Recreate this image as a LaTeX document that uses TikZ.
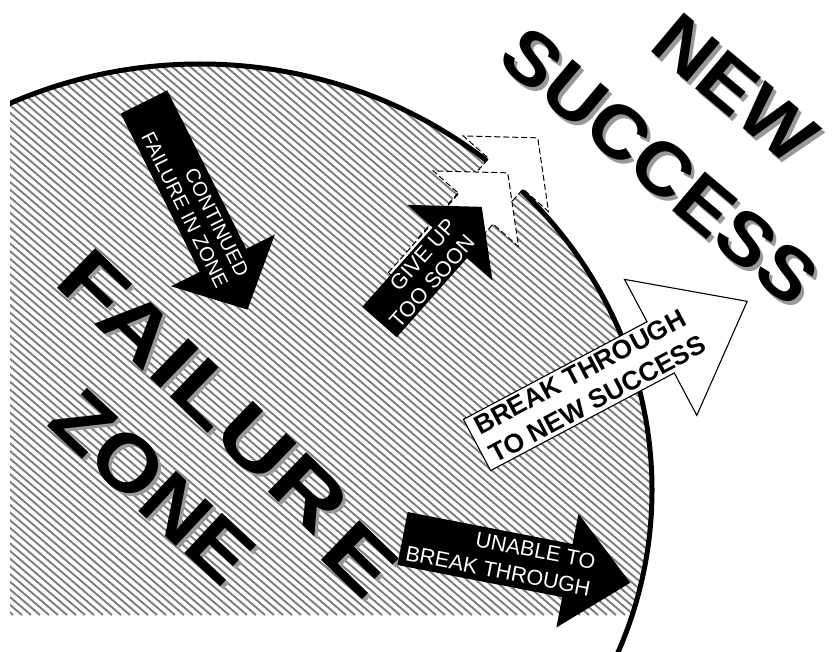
\documentclass[tikz,border=0pt]{standalone}
\usepackage{fontspec}
\setmainfont{Liberation Sans}
\usepackage{tikz}
\usetikzlibrary{calc}

% fat block arrow along the local x axis: shaft half width, shaft length, head half width, head length
\newcommand{\fatarrow}[4]{(0,-#1) -- (#2,-#1) -- (#2,-#3) -- (#2+#4,0) -- (#2,#3) -- (#2,#1) -- (0,#1) -- cycle}

\begin{document}
\begin{tikzpicture}[x=1pt, y=-1pt,
    hatchline/.style={black!50, line width=2pt},
    solidarrow/.style={fill=black},
    ghostarrow/.style={fill=white, draw=black, line width=1pt, dash pattern=on 6pt off 3pt},
    openarrow/.style={fill=white, draw=black, line width=1.1pt},
    arrowtext/.style={text=white, inner sep=0pt, transform shape},
    bigword/.style={font=\bfseries\fontsize{80}{90}\selectfont, inner sep=0pt},
    shadowword/.style={bigword, text=black!40}]

  \useasboundingbox (0,0) rectangle (834,652);

  % Centre of the failure zone (an ellipse cut off by the page)
  \coordinate (Z) at (200,490);

  % Hatched zone and its rim
  \begin{scope}
    \clip (10,0) rectangle (834,652);
    \begin{scope}
      \clip (Z) ellipse [x radius=452, y radius=426];
      \foreach \k in {-770,-761,...,840}
        \draw[hatchline] (\k,0) -- ++(720,615);
    \end{scope}
    \draw[line width=5pt] (Z) ellipse [x radius=452, y radius=426];
  \end{scope}

  % Big words
  \node[shadowword, rotate=-44, xscale=1.27, anchor=base west] (failureshadow) at (55,286) {FAILUR\kern10pt\raisebox{-12pt}{E}};
  \node[bigword, rotate=-44, xscale=1.27, anchor=base west] (failure) at (52,283) {FAILUR\kern10pt\raisebox{-12pt}{E}};
  \node[shadowword, rotate=-43, xscale=1.09, anchor=base] (zoneshadow) at (137,510) {ZONE};
  \node[bigword, rotate=-43, xscale=1.09, anchor=base] (zone) at (134,507) {ZONE};

  \node[shadowword, font=\bfseries\fontsize{74}{80}\selectfont, rotate=-40, xscale=1.08, anchor=base] (newshadow) at (722,112) {NEW};
  \node[bigword, font=\bfseries\fontsize{74}{80}\selectfont, rotate=-40, xscale=1.08, anchor=base] (new) at (719,108) {NEW};
  \node[shadowword, font=\bfseries\fontsize{74}{80}\selectfont, rotate=-40, xscale=1.08, anchor=base] (successshadow) at (646.3,189.7) {SUCCESS};
  \node[bigword, font=\bfseries\fontsize{74}{80}\selectfont, rotate=-40, xscale=1.08, anchor=base] (success) at (643.3,185.7) {SUCCESS};

  % Continued failure in zone
  \begin{scope}[shift={(144,102)}, rotate=-63.5]
    \fill[solidarrow] \fatarrow{26}{177}{58}{55};
    \node[arrowtext, font=\fontsize{20}{23}\selectfont, anchor=east, align=right] (continued) at (200,0) {CONTINUED\\FAILURE IN ZONE};
  \end{scope}

  % Give up too soon, with the two ghost arrows it never reached
  \begin{scope}[shift={(435.5,253)}, rotate=48.4]
    \filldraw[ghostarrow] \fatarrow{23}{106}{57}{48};
  \end{scope}
  \begin{scope}[shift={(405.5,288)}, rotate=48.4]
    \filldraw[ghostarrow] \fatarrow{23}{106}{57}{48};
  \end{scope}
  \begin{scope}[shift={(379.5,322)}, rotate=48.4]
    \fill[solidarrow] \fatarrow{23}{106}{57}{48};
    \node[arrowtext, font=\fontsize{21.5}{25}\selectfont, anchor=east, align=right] (giveup) at (123,0) {GIVE UP\\TOO SOON};
  \end{scope}

  % Break through to new success
  \begin{scope}[shift={(477,445)}, rotate=28]
    \filldraw[openarrow] \fatarrow{29}{208}{77}{98};
    \node[arrowtext, text=black, font=\bfseries\fontsize{26.5}{32}\selectfont, anchor=west, align=left] (breakthrough) at (7,0) {BREAK THROUGH\\TO NEW SUCCESS};
  \end{scope}

  % Unable to break through
  \begin{scope}[shift={(402.5,538.5)}, rotate=-11]
    \fill[solidarrow] \fatarrow{27}{168}{58}{64};
    \node[arrowtext, font=\fontsize{21.5}{27}\selectfont, anchor=east, align=right] (unable) at (194,0) {UNABLE TO\\BREAK THROUGH};
  \end{scope}
\end{tikzpicture}
\end{document}
